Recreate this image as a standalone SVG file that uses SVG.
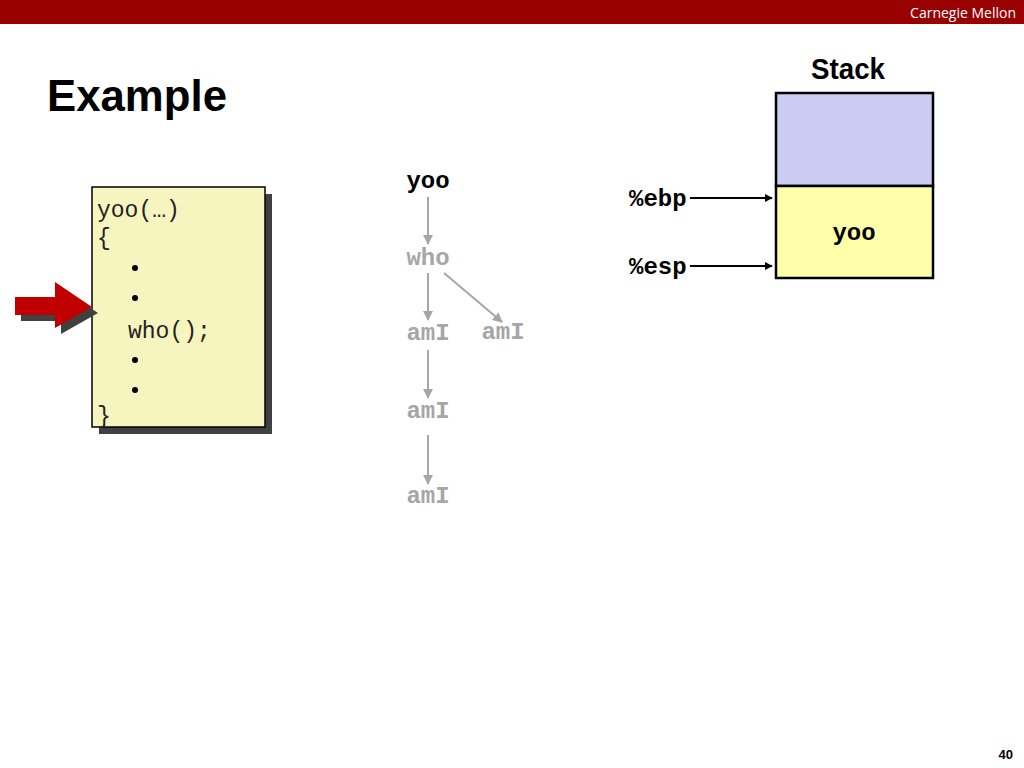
<svg xmlns="http://www.w3.org/2000/svg" width="1024" height="768" viewBox="0 0 1024 768">
<defs>
<style>
.code{font-family:"Liberation Mono","Courier New",monospace;font-size:23px;fill:#222}
.tree{font-family:"Liberation Mono","Courier New",monospace;font-size:24px;font-weight:bold;fill:#A6A6A6}
.reg{font-family:"Liberation Mono","Courier New",monospace;font-size:24px;font-weight:bold;fill:#000}
.tline{stroke:#A6A6A6;stroke-width:2;fill:none}
.bline{stroke:#000;stroke-width:2;fill:none}
</style>
<marker id="ga" viewBox="0 0 10 10" refX="9" refY="5" markerWidth="5" markerHeight="5" orient="auto" markerUnits="strokeWidth">
<path d="M0,0 L10,5 L0,10 z" fill="#A6A6A6"/>
</marker>
<marker id="ba" viewBox="0 0 10 10" refX="9" refY="5" markerWidth="4" markerHeight="4" orient="auto" markerUnits="strokeWidth">
<path d="M0,0 L10,5 L0,10 z" fill="#000"/>
</marker>
</defs>
<rect width="1024" height="768" fill="#fff"/>
<g id="header">
<rect x="0" y="0" width="1024" height="24" fill="#990000"/>
<text x="1016" y="18" text-anchor="end" font-family="Open Sans,Liberation Sans,sans-serif" font-size="14" fill="#fff">Carnegie Mellon</text>
</g>
<g id="title">
<text x="47" y="111" font-family="Liberation Sans,Arial,sans-serif" font-weight="bold" font-size="44" textLength="180" lengthAdjust="spacingAndGlyphs" fill="#000">Example</text>
</g>
<g id="code-box">
<rect x="99" y="194" width="173" height="240" fill="#404040"/>
<rect x="92" y="187" width="173" height="240" fill="#F7F5BF" stroke="#000" stroke-width="1.5"/>
<text class="code" x="97" y="217">yoo(…)</text>
<text class="code" x="97" y="245">{</text>
<circle cx="135" cy="268" r="3" fill="#000"/>
<circle cx="135" cy="298" r="3" fill="#000"/>
<text class="code" x="128" y="338">who();</text>
<circle cx="135" cy="360" r="3" fill="#000"/>
<circle cx="135" cy="390" r="3" fill="#000"/>
<text class="code" x="97" y="423">}</text>
</g>
<g id="pointer-arrow">
<path d="M21,303 L61,303 L61,288 L98,313 L61,334 L61,321 L21,321 z" fill="#404040"/>
<path d="M15,297 L55,297 L55,282 L92,307 L55,328 L55,315 L15,315 z" fill="#C00000"/>
</g>
<g id="call-tree">
<text x="428" y="188" text-anchor="middle" class="reg">yoo</text>
<text x="428" y="265" text-anchor="middle" class="tree">who</text>
<text x="428" y="340" text-anchor="middle" class="tree">amI</text>
<text x="503" y="339" text-anchor="middle" class="tree">amI</text>
<text x="428" y="418" text-anchor="middle" class="tree">amI</text>
<text x="428" y="503" text-anchor="middle" class="tree">amI</text>
</g>
<g id="connectors">
<line class="tline" x1="428" y1="197" x2="428" y2="244" marker-end="url(#ga)"/>
<line class="tline" x1="428" y1="273" x2="428" y2="320" marker-end="url(#ga)"/>
<line class="tline" x1="444" y1="273" x2="502" y2="322" marker-end="url(#ga)"/>
<line class="tline" x1="428" y1="350" x2="428" y2="398" marker-end="url(#ga)"/>
<line class="tline" x1="428" y1="435" x2="428" y2="484" marker-end="url(#ga)"/>
<line class="bline" x1="690" y1="198" x2="772" y2="198" marker-end="url(#ba)"/>
<line class="bline" x1="690" y1="266" x2="772" y2="266" marker-end="url(#ba)"/>
</g>
<g id="stack">
<text x="848" y="79" text-anchor="middle" font-family="Liberation Sans,Arial,sans-serif" font-weight="bold" font-size="29" textLength="74" lengthAdjust="spacingAndGlyphs" fill="#000">Stack</text>
<rect x="776" y="93" width="157" height="93" fill="#CCCCF2" stroke="#000" stroke-width="2.5"/>
<rect x="776" y="186" width="157" height="92" fill="#FFFFAA" stroke="#000" stroke-width="2.5"/>
<text x="854" y="240" text-anchor="middle" class="reg">yoo</text>
</g>
<g id="registers">
<text x="629" y="206" class="reg">%ebp</text>
<text x="629" y="274" class="reg">%esp</text>
</g>
<g id="page-number">
<text x="1013" y="759" text-anchor="end" font-family="Liberation Sans Narrow,Liberation Sans,sans-serif" font-size="13" font-weight="bold" fill="#000">40</text>
</g>
</svg>
